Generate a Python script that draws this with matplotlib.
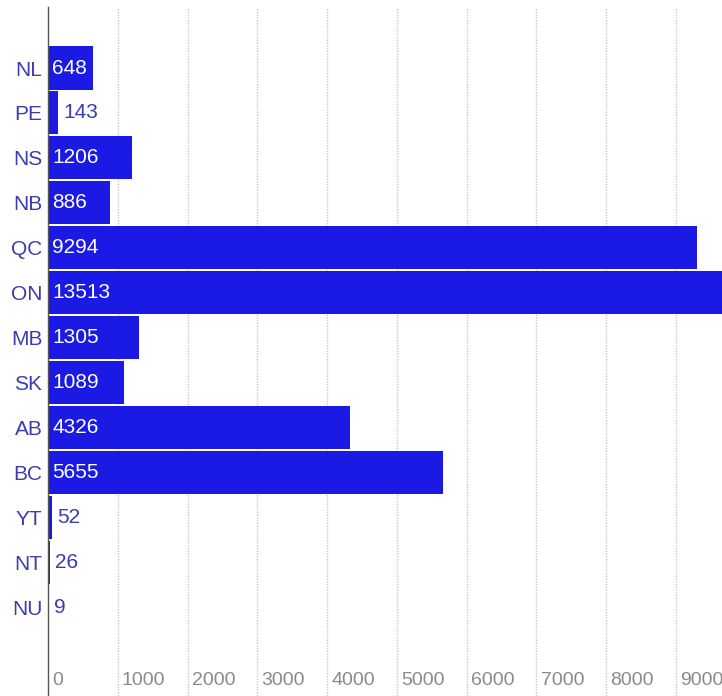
import matplotlib
matplotlib.use("Agg")
import matplotlib.pyplot as plt
import matplotlib.transforms as mtransforms

# --- data ---
provinces = ["NL", "PE", "NS", "NB", "QC", "ON", "MB", "SK", "AB", "BC", "YT", "NT", "NU"]
counts = [648, 143, 1206, 886, 9294, 13513, 1305, 1089, 4326, 5655, 52, 26, 9]
tick_values = [0, 1000, 2000, 3000, 4000, 5000, 6000, 7000, 8000, 9000]

# --- style ---
bar_color = "#1a1ae4"
label_color = "#3c3cae"
tick_color = "#8a8a8a"
font = ["Liberation Sans Narrow", "Liberation Sans", "DejaVu Sans"]
plt.rcParams["font.family"] = font

W, H = 722, 696
fig = plt.figure(figsize=(W / 100, H / 100), dpi=100)
left_px, top_px = 48, 7
ax = fig.add_axes([left_px / W, 0, 1 - left_px / W, 1 - top_px / H])

px_per_unit = 628 / 9000
row0, row_step = 68, 44.92
ax.set_xlim(0, (W - left_px) / px_per_unit)
ax.set_ylim((H - row0) / row_step, (top_px - row0) / row_step)

ypos = list(range(len(provinces)))
ax.barh(ypos, counts, height=0.96, color=bar_color, zorder=2)

# grid lines (dotted)
for v in tick_values[1:]:
    ax.axvline(v, color="#c8c8c8", linestyle=(0, (1, 1)), linewidth=1, zorder=1)

# value labels
for y, c in zip(ypos, counts):
    if c >= 500:
        ax.text(60, y, str(c), color="white", va="center", ha="left", fontsize=15, zorder=3)
    else:
        ax.text(c + 75, y, str(c), color=label_color, va="center", ha="left", fontsize=15, zorder=3)

# category labels
ax.set_yticks(ypos)
ax.set_yticklabels(provinces, fontsize=15, color=label_color)
ax.tick_params(axis="y", length=0, pad=4)

# x tick labels drawn inside the plot area, right of each grid line
ax.set_xticks([])
trans = mtransforms.blended_transform_factory(ax.transData, ax.transAxes)
for v in tick_values:
    ax.text(v + 60, 0.023, str(v), transform=trans, color=tick_color,
            fontsize=14, va="center", ha="left")

for s in ["top", "right", "bottom"]:
    ax.spines[s].set_visible(False)
ax.spines["left"].set_color("#555555")
ax.spines["left"].set_linewidth(1)

fig.savefig("out.png", dpi=100)
